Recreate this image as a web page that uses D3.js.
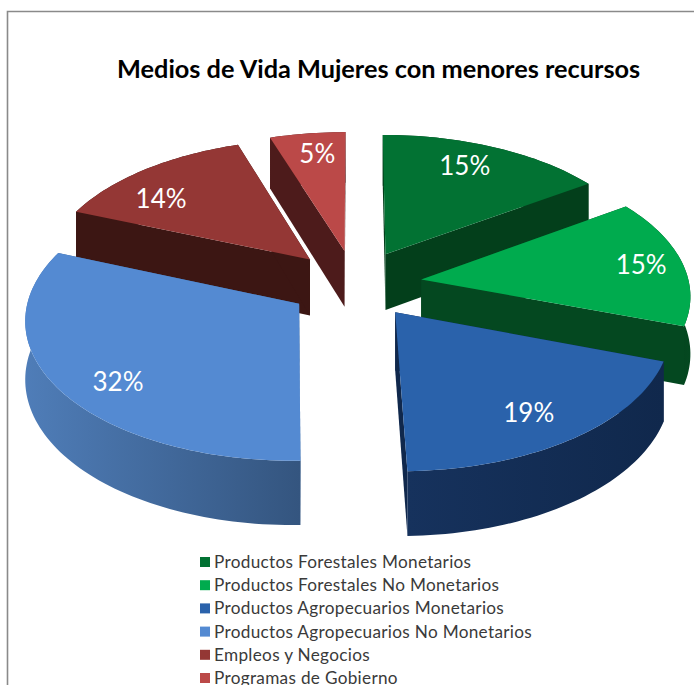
<!DOCTYPE html>
<html><head><meta charset="utf-8">
<script src="https://cdn.jsdelivr.net/npm/d3@7"></script>
<style>html,body{margin:0;padding:0;background:#fff;overflow:hidden}svg{display:block}text{font-family:Lato,"Open Sans",sans-serif}</style>
</head><body><svg id="c" width="694" height="685"></svg>
<script>
const categories = ["Productos Forestales Monetarios","Productos Forestales No Monetarios","Productos Agropecuarios Monetarios","Productos Agropecuarios No Monetarios","Empleos y Negocios","Programas de Gobierno"];
const values = [15.4,15.0,19.2,31.5,13.8,5.1];
const topColors = ["#027233","#00ab4e","#2a62ab","#548ad2","#943735","#bb4948"];
const wallColors = ["#033f1b","#044820","#10284c","#3f6696","#3c1613","#4d1b1b"];
const outerStart = ["#033f1b","#044820","#10284c","#4f7db8","#3c1613","#4d1b1b"];
const outerEnd = ["#033f1b","#033a1a","#16325d","#34557f","#3c1613","#4d1b1b"];
const labelShift = [[-10,-2],[11,0],[-7,2],[9,11],[-15,12],[3,-1]];
const title = "Medios de Vida Mujeres con menores recursos";

const W=694,H=685;
const svg=d3.select("#c");
const color=d3.scaleOrdinal(categories,topColors);
const cx=355, cy=284, rx=268, ry=137, persp=0.1, depth=57, explode=0.25;
const proj=(X,Z,drop=0)=>{const s=1/(1+persp*Z);return [cx+rx*X*s, cy-ry*Z*s+drop*s];};
const line=d3.line();
const arcs=d3.pie().sort(null).value(d=>d).startAngle(0).endAngle(2*Math.PI)(values);

const slices=arcs.map((a,i)=>{
  const mid=(a.startAngle+a.endAngle)/2;
  const ox=explode*Math.sin(mid), oz=explode*Math.cos(mid);
  const n=Math.max(8,Math.round((a.endAngle-a.startAngle)*40));
  const rim=d3.range(n+1).map(k=>{const t=a.startAngle+(a.endAngle-a.startAngle)*k/n;return [ox+Math.sin(t),oz+Math.cos(t)];});
  return {i,a,mid,ox,oz,rim,label:[ox+0.8*Math.sin(mid),oz+0.8*Math.cos(mid)]};
});

// border
svg.append("path").attr("d",line([[7.5,H],[7.5,11.5],[W,11.5]])).attr("fill","none").attr("stroke","#8a8a8a").attr("stroke-width",1.6);

// gradients for rim walls
const defs=svg.append("defs");
slices.forEach(s=>{
  const xs=s.rim.map(p=>proj(p[0],p[1])[0]);
  const g=defs.append("linearGradient").attr("id","rim"+s.i).attr("gradientUnits","userSpaceOnUse")
    .attr("x1",d3.min(xs)).attr("x2",d3.max(xs)).attr("y1",0).attr("y2",0);
  const left=s.mid>Math.PI;
  g.append("stop").attr("offset",0).attr("stop-color",left?outerStart[s.i]:outerEnd[s.i]);
  g.append("stop").attr("offset",1).attr("stop-color",left?outerEnd[s.i]:outerStart[s.i]);
});

// painter order: far slices first
const order=slices.slice().sort((p,q)=>q.oz-p.oz);
const gS=svg.append("g");
order.forEach(s=>{
  const g=gS.append("g");
  const apex=[s.ox,s.oz];
  const first=s.rim[0], last=s.rim[s.rim.length-1];
  const wall=(pts)=>pts.map(p=>proj(p[0],p[1])).concat(pts.slice().reverse().map(p=>proj(p[0],p[1],depth)));
  g.append("path").attr("d",line(wall([apex,first]))+"Z").attr("fill",wallColors[s.i]);
  g.append("path").attr("d",line(wall([apex,last]))+"Z").attr("fill",wallColors[s.i]);
  g.append("path").attr("d",line(wall(s.rim))+"Z").attr("fill",`url(#rim${s.i})`);
  g.append("path").attr("d",line([apex].concat(s.rim).map(p=>proj(p[0],p[1])))+"Z").attr("fill",color(categories[s.i]));
});

// percent labels
slices.forEach(s=>{
  const p=proj(s.label[0],s.label[1]);
  svg.append("text").attr("x",p[0]+labelShift[s.i][0]).attr("y",p[1]+labelShift[s.i][1]).attr("dy","0.35em").attr("text-anchor","middle")
    .attr("font-size",26).attr("fill","#fff").text(Math.round(values[s.i])+"%");
});

// title
svg.append("text").attr("x",117).attr("y",78).attr("font-size",25.3).attr("font-weight",700).attr("fill","#000").text(title);

// legend
const ly=d3.scalePoint().domain(categories).range([562,678]);
const lg=svg.append("g").selectAll("g").data(categories).join("g");
lg.append("rect").attr("x",200).attr("y",d=>ly(d)-5).attr("width",10).attr("height",10).attr("fill",d=>color(d));
lg.append("text").attr("x",214).attr("y",d=>ly(d)).attr("dy","0.35em").attr("font-size",17.2).attr("letter-spacing",0.3).attr("fill","#3a3a3a").text(d=>d);
</script></body></html>
